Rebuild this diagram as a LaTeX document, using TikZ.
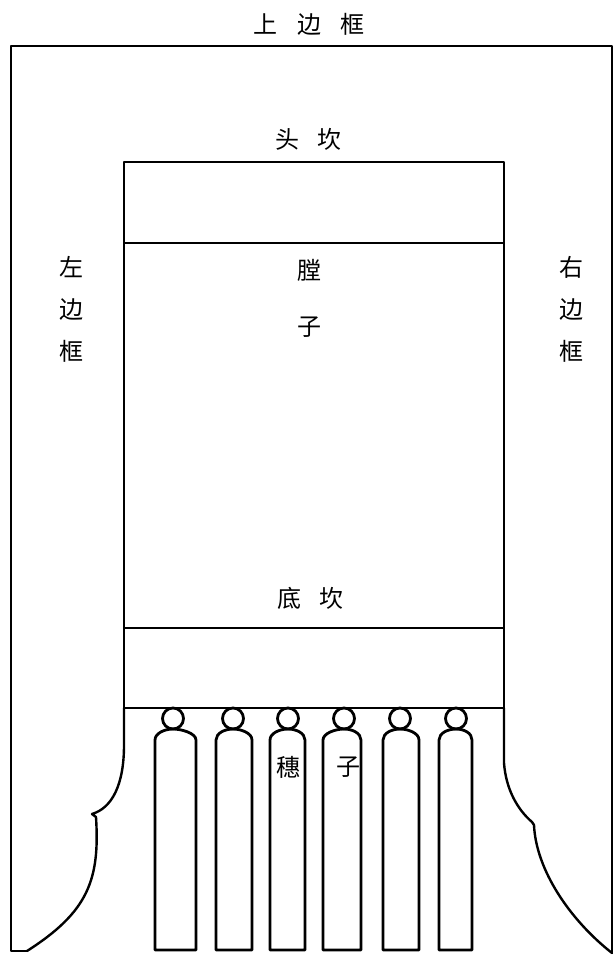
\documentclass[tikz,border=0pt]{standalone}
\usepackage{fontspec}
\newfontfamily\cjk{Noto Sans CJK SC}
\begin{document}
\begin{tikzpicture}[x=1pt,y=-1pt,
  ln/.style={line width=2.4pt,line join=round,line cap=round},
  thin/.style={line width=1.8pt},
  lbl/.style={font=\cjk\fontsize{24}{24}\selectfont,inner sep=0pt},
  vlbl/.style={font=\cjk\fontsize{24}{42}\selectfont,inner sep=0pt,align=center},
  tassel/.style={line width=2.8pt,line join=round}]
\useasboundingbox (0,0) rectangle (615,955);
% outer frame
\draw[ln] (27,951) -- (11,951) -- (11,46) -- (612,46) -- (612,953);
% right inner curve
\draw[ln] (504,708) -- (504,763) .. controls (506,790) and (518,810) .. (532,822)
  -- (534,825) .. controls (536,870) and (570,920) .. (612,953);
% left inner curve
\draw[ln] (124,708) -- (124,745) .. controls (124,785) and (112,808) .. (92,814)
  -- (96,817) .. controls (100,880) and (88,912) .. (27,951);
% panel
\draw[ln] (124,162) rectangle (504,708);
\draw[thin] (124,243) -- (504,243);
\draw[thin] (124,628) -- (504,628);
% tassels
\foreach \L/\R/\C [count=\i] in {155/196/173, 216/252/233, 270/305/288, 323/361/344, 383/419/400, 439/472/456}{
  \draw[tassel] (\C,718.5) circle (10.5);
  \draw[tassel] (\L,950) -- (\L,740) .. controls (\L,733) and (\C-8,729) .. (\C,729)
     .. controls (\C+8,729) and (\R,733) .. (\R,740) -- (\R,950) -- cycle;
}
% labels
\node[lbl] (top) at (309,24) {上\hspace{0.8em}边\hspace{0.8em}框};
\node[lbl] (tk) at (308,139) {头\hspace{0.75em}坎};
\node[lbl] (dk) at (310,598) {底\hspace{0.75em}坎};
\node[lbl] (t1) at (309,270) {膛};
\node[lbl] (t2) at (309,327) {子};
\node[vlbl] (lf) at (71,309) {左\\边\\框};
\node[vlbl] (rf) at (571,309) {右\\边\\框};
\node[lbl] (s1) at (288,767) {穗};
\node[lbl] (s2) at (348,767) {子};
\end{tikzpicture}
\end{document}
